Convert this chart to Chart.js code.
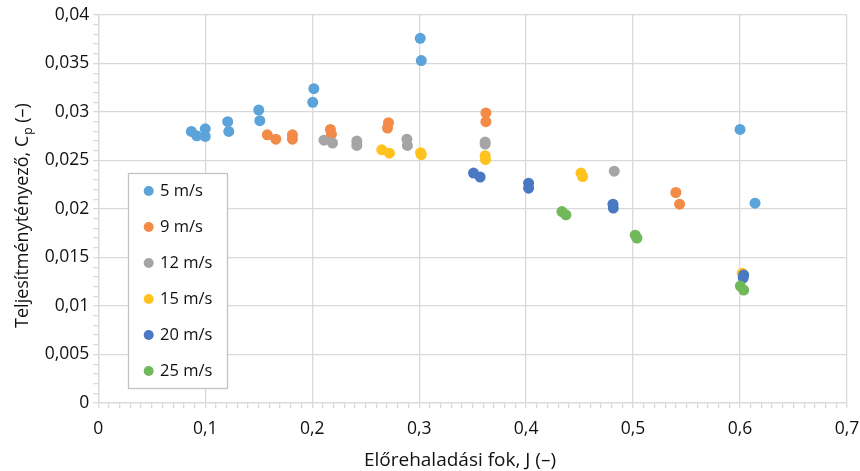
<!DOCTYPE html>
<html>
<head>
<meta charset="utf-8">
<script src="https://cdn.jsdelivr.net/npm/chart.js@4"></script>
<style>
  html, body { margin: 0; padding: 0; background: #fff; }
  #wrap { width: 860px; height: 471px; }
</style>
</head>
<body>
<div id="wrap"><canvas id="grafico" width="860" height="471"></canvas></div>
<script>
// Előrehaladási fok (J) és teljesítménytényező (Cp) mérési pontok szélsebességenként
const j5 = [0.087, 0.092, 0.100, 0.100, 0.121, 0.122, 0.150, 0.151, 0.2015, 0.2005, 0.301, 0.302, 0.600, 0.614];
const cp5 = [0.0280, 0.02755, 0.02827, 0.02748, 0.0290, 0.0280, 0.0302, 0.0291, 0.0324, 0.0310, 0.0376, 0.0353, 0.0282, 0.0206];

const j9 = [0.158, 0.166, 0.1815, 0.1815, 0.217, 0.218, 0.2713, 0.2704, 0.3624, 0.3624, 0.540, 0.5435];
const cp9 = [0.02765, 0.0272, 0.02765, 0.0272, 0.0282, 0.0277, 0.0289, 0.02835, 0.0299, 0.0290, 0.0217, 0.0205];

const j12 = [0.211, 0.219, 0.2417, 0.2417, 0.2885, 0.289, 0.3617, 0.3617, 0.4824];
const cp12 = [0.0271, 0.0268, 0.0270, 0.02655, 0.0272, 0.02655, 0.0269, 0.0267, 0.0239];

const j15 = [0.265, 0.2722, 0.3013, 0.302, 0.3617, 0.362, 0.4513, 0.4528, 0.602];
const cp15 = [0.0261, 0.02576, 0.0258, 0.0256, 0.0255, 0.0251, 0.0237, 0.02335, 0.01337];

const j20 = [0.3508, 0.357, 0.4023, 0.4023, 0.4812, 0.4815, 0.6034, 0.603];
const cp20 = [0.0237, 0.0233, 0.02266, 0.02215, 0.0205, 0.0201, 0.0132, 0.0129];

const j25 = [0.4335, 0.4372, 0.502, 0.5036, 0.6003, 0.6034];
const cp25 = [0.01973, 0.0194, 0.0173, 0.0170, 0.01206, 0.01164];

const sorozatNevek = ['5 m/s', '9 m/s', '12 m/s', '15 m/s', '20 m/s', '25 m/s'];
const sorozatJ = [j5, j9, j12, j15, j20, j25];
const sorozatCp = [cp5, cp9, cp12, cp15, cp20, cp25];
const szinek = ['#5ba3d9', '#f28a48', '#a5a5a5', '#ffc21f', '#4a78c2', '#70b85a'];

const betu = '"Open Sans", "Noto Sans", sans-serif';
const racsSzin = '#d9d9d9';
const szovegSzin = '#111111';

// Tizedesvesszős tengelyfelirat
function formaz(v) {
    if (Math.abs(v) < 1e-9) return '0';
    return String(parseFloat(v.toFixed(4))).replace('.', ',');
}
function fo(v, lepes) {
    const q = v / lepes;
    return Math.abs(q - Math.round(q)) < 1e-6;
}

const adatsorok = sorozatNevek.map(function (nev, i) {
    return {
        label: nev,
        data: sorozatJ[i].map(function (x, k) { return { x: x, y: sorozatCp[i][k] }; }),
        backgroundColor: szinek[i],
        borderColor: szinek[i],
        borderWidth: 0,
        pointRadius: 5.5,
        pointHoverRadius: 5.5,
        order: sorozatNevek.length - i // a későbbi sorozat kerül felülre
    };
});

// Tengelycímek (alsó indexes Cp) és a jelmagyarázat doboza
const feliratok = {
    id: 'feliratok',
    afterDraw(chart) {
        const ctx = chart.ctx;
        ctx.save();
        ctx.fillStyle = szovegSzin;
        ctx.font = '19px ' + betu;
        ctx.textBaseline = 'alphabetic';
        ctx.textAlign = 'center';
        ctx.fillText('Előrehaladási fok, J (–)', 460, 466);

        // függőleges cím
        ctx.translate(28, 216);
        ctx.rotate(-Math.PI / 2);
        const r1 = 'Teljesítménytényező, C';
        const r2 = 'p';
        const r3 = ' (–)';
        ctx.font = '18px ' + betu;
        const w1 = ctx.measureText(r1).width;
        const w3 = ctx.measureText(r3).width;
        ctx.font = '12px ' + betu;
        const w2 = ctx.measureText(r2).width;
        let x = -(w1 + w2 + w3) / 2;
        ctx.textAlign = 'left';
        ctx.font = '18px ' + betu;
        ctx.fillText(r1, x, 0);
        x += w1;
        ctx.font = '12px ' + betu;
        ctx.fillText(r2, x + 1, 4);
        x += w2 + 1;
        ctx.font = '18px ' + betu;
        ctx.fillText(r3, x, 0);
        ctx.restore();

        // jelmagyarázat
        ctx.save();
        ctx.fillStyle = '#ffffff';
        ctx.strokeStyle = '#c4c4c4';
        ctx.lineWidth = 1.3;
        ctx.fillRect(128.5, 173.5, 99, 215);
        ctx.strokeRect(128.5, 173.5, 99, 215);
        ctx.font = '16.5px ' + betu;
        ctx.textBaseline = 'middle';
        ctx.textAlign = 'left';
        sorozatNevek.forEach(function (nev, i) {
            const y = 191 + i * 36;
            ctx.beginPath();
            ctx.fillStyle = szinek[i];
            ctx.arc(148.7, y, 5, 0, Math.PI * 2);
            ctx.fill();
            ctx.fillStyle = szovegSzin;
            ctx.fillText(nev, 160, y);
        });
        ctx.restore();
    }
};

new Chart(document.getElementById('grafico').getContext('2d'), {
    type: 'scatter',
    data: { datasets: adatsorok },
    plugins: [feliratok],
    options: {
        responsive: false,
        animation: false,
        events: [],
        layout: { padding: { top: 15, right: 0, left: 0, bottom: 0 } },
        plugins: { legend: { display: false }, tooltip: { enabled: false } },
        scales: {
            x: {
                type: 'linear',
                min: 0,
                max: 0.7,
                afterFit: function (s) {
                    s.height = 68;
                    s.paddingRight = 13;
                },
                border: { color: racsSzin, width: 1.3 },
                grid: {
                    color: function (c) { return fo(c.tick.value, 0.1) ? racsSzin : 'rgba(0,0,0,0)'; },
                    tickColor: racsSzin,
                    lineWidth: 1.3,
                    tickLength: 5
                },
                ticks: {
                    stepSize: 0.01,
                    autoSkip: false,
                    maxRotation: 0,
                    padding: 11,
                    color: szovegSzin,
                    font: { family: betu, size: 17.5 },
                    callback: function (v) { return fo(v, 0.1) ? formaz(v) : ''; }
                }
            },
            y: {
                min: 0,
                max: 0.04,
                afterFit: function (s) { s.width = 98.3; },
                border: { color: racsSzin, width: 1.3 },
                grid: {
                    color: function (c) { return fo(c.tick.value, 0.005) ? racsSzin : 'rgba(0,0,0,0)'; },
                    tickColor: racsSzin,
                    lineWidth: 1.3,
                    tickLength: 5
                },
                ticks: {
                    stepSize: 0.001,
                    autoSkip: false,
                    padding: 4,
                    color: szovegSzin,
                    font: { family: betu, size: 17.5 },
                    callback: function (v) { return fo(v, 0.005) ? formaz(v) : ''; }
                }
            }
        }
    }
});
</script>
</body>
</html>
